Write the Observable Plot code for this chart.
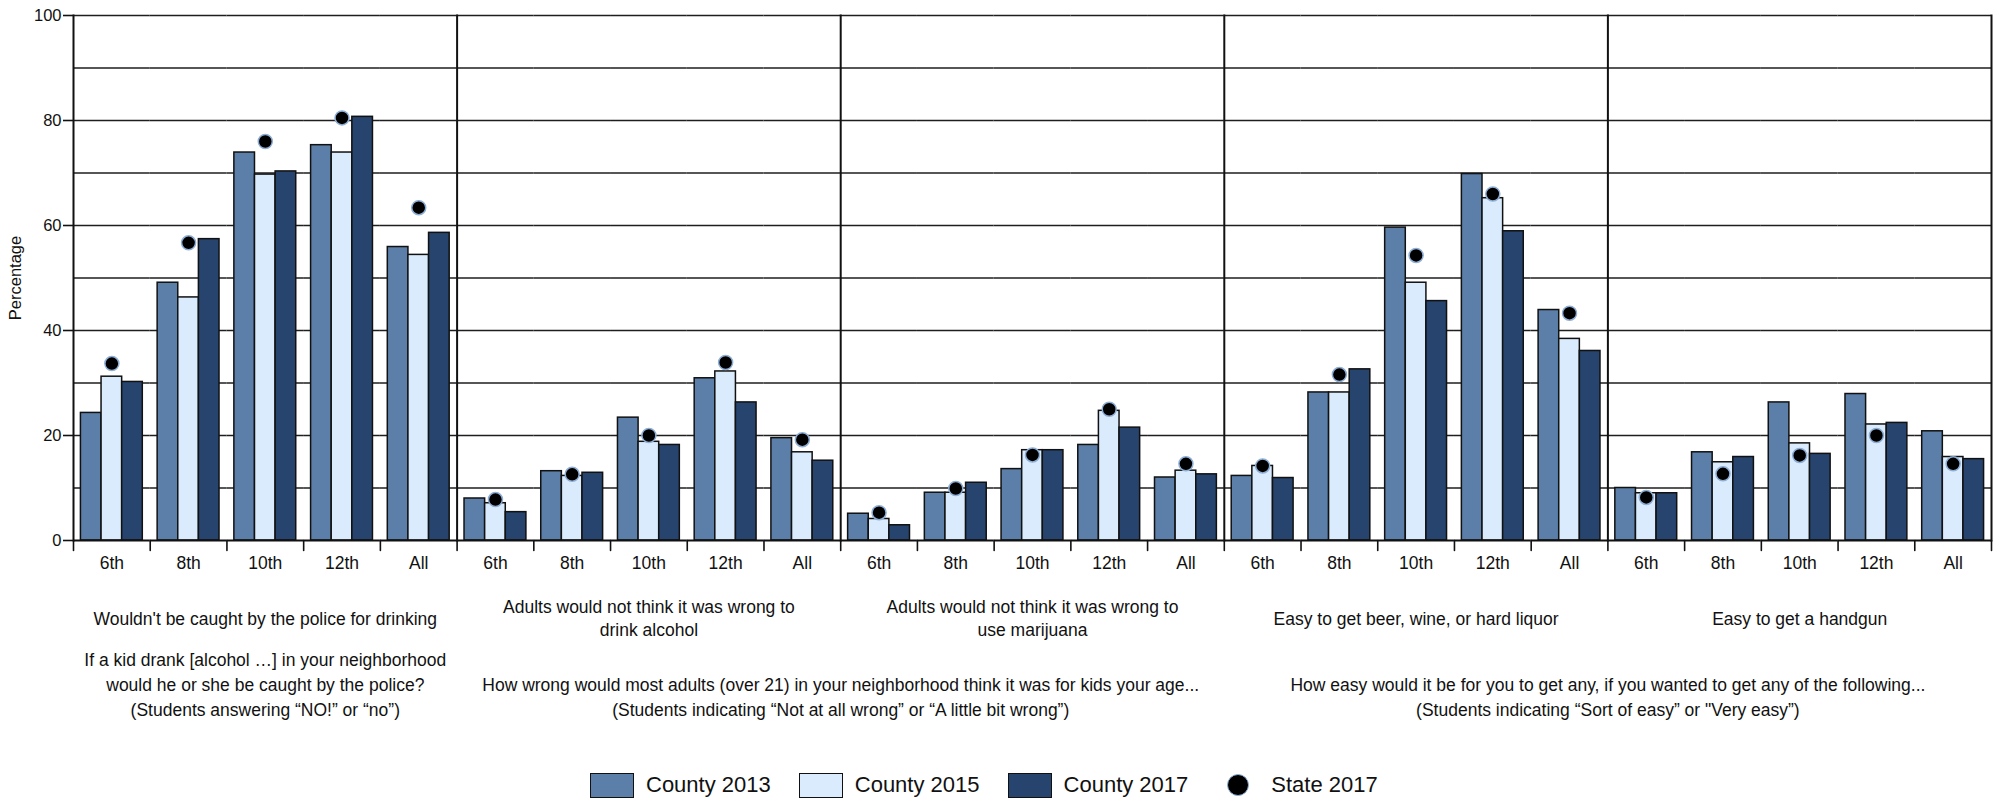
<!DOCTYPE html>
<html>
<head>
<meta charset="utf-8">
<script src="https://cdn.jsdelivr.net/npm/d3@7"></script>
<script src="https://cdn.jsdelivr.net/npm/@observablehq/plot@0.6"></script>
<style>
  body { margin: 0; background: #fff; }
  #chart svg { display: block; }
  #legend { display: flex; justify-content: flex-start; align-items: center; height: 40px; padding-left: 590px;
            font-family: "Liberation Sans", Arial, sans-serif; font-size: 22px; color: #111; }
  .item { display: flex; align-items: center; margin-right: 28px; }
  .sw { width: 44px; height: 25px; border: 1.5px solid #111; margin-right: 12px; box-sizing: border-box; }
  .dsw { width: 22px; height: 22px; border-radius: 50%; background: #000; border: 1.5px solid #8eaed6; box-sizing: border-box; margin-right: 22px; margin-left: 11px; }
</style>
</head>
<body>
<div id="chart"></div>
<div id="legend"></div>
<script>
// ---- data ----
const panels = ["p1", "p2", "p3", "p4", "p5"];
const grades = ["6th", "8th", "10th", "12th", "All"];
const series = ["County 2013", "County 2015", "County 2017"];
const stateLabel = "State 2017";

// values per panel (rows) and grade (columns)
const county2013 = [
  [24.3, 49.1, 73.9, 75.3, 55.9],
  [8.0, 13.2, 23.4, 30.9, 19.5],
  [5.1, 9.1, 13.6, 18.2, 12.0],
  [12.3, 28.2, 59.6, 69.8, 43.9],
  [10.0, 16.8, 26.3, 27.9, 20.8]
];
const county2015 = [
  [31.2, 46.3, 69.7, 73.9, 54.4],
  [7.1, 12.3, 18.8, 32.2, 16.8],
  [4.1, 9.1, 17.2, 24.7, 13.3],
  [14.2, 28.2, 49.1, 65.2, 38.4],
  [9.0, 14.9, 18.5, 22.1, 15.9]
];
const county2017 = [
  [30.2, 57.4, 70.3, 80.7, 58.6],
  [5.4, 12.9, 18.2, 26.3, 15.2],
  [2.9, 11.0, 17.2, 21.5, 12.6],
  [11.9, 32.6, 45.6, 58.9, 36.1],
  [9.0, 15.9, 16.5, 22.4, 15.5]
];
const state2017 = [
  [33.7, 56.7, 76.0, 80.5, 63.4],
  [7.8, 12.6, 20.0, 33.9, 19.2],
  [5.3, 9.9, 16.3, 25.0, 14.6],
  [14.2, 31.6, 54.3, 66.0, 43.3],
  [8.2, 12.7, 16.2, 20.0, 14.6]
];

const yTicks = [0, 20, 40, 60, 80, 100];
const gridValues = [10, 20, 30, 40, 50, 60, 70, 80, 90, 100];

const panelTitles = [
  "Wouldn't be caught by the police for drinking",
  "Adults would not think it was wrong to\ndrink alcohol",
  "Adults would not think it was wrong to\nuse marijuana",
  "Easy to get beer, wine, or hard liquor",
  "Easy to get a handgun"
];
const question1 = "If a kid drank [alcohol …] in your neighborhood\nwould he or she be caught by the police?\n(Students answering “NO!” or “no”)";
const question2 = "How wrong would most adults (over 21) in your neighborhood think it was for kids your age...\n(Students indicating “Not at all wrong” or “A little bit wrong”)";
const question3 = "How easy would it be for you to get any, if you wanted to get any of the following...\n(Students indicating “Sort of easy” or \"Very easy”)";

// ---- styles ----
const colors = ["#5b7fa8", "#d9ebfc", "#26446e"];
const FONT = '"Liberation Sans", Arial, sans-serif';
const INK = "#111";

// ---- tables ----
const key = (p, g) => `${p}|${g}`;
const keys = panels.flatMap(p => grades.map(g => key(p, g)));
const seriesValues = [county2013, county2015, county2017];
const rows = [];
panels.forEach((p, pi) => grades.forEach((g, gi) => series.forEach((s, si) => {
  rows.push({key: key(p, g), series: s, value: seriesValues[si][pi][gi]});
})));
const stateRows = [];
panels.forEach((p, pi) => grades.forEach((g, gi) => {
  stateRows.push({key: key(p, g), series: stateLabel, value: state2017[pi][gi]});
}));
const titleRows = panels.map((p, i) => ({key: key(p, grades[2]), text: panelTitles[i]}));
const questionRows = [
  {key: key(panels[0], grades[2]), text: question1},
  {key: key(panels[2], grades[0]), text: question2},
  {key: key(panels[4], grades[0]), text: question3}
];
const lastKey = keys[keys.length - 1];

const chart = Plot.plot({
  width: 2001,
  height: 765,
  marginLeft: 73,
  marginRight: 10,
  marginTop: 15,
  marginBottom: 225,
  style: {fontFamily: FONT, fontSize: "17px", color: INK, background: "#fff", overflow: "visible"},
  fx: {domain: keys, padding: 0, round: false},
  x: {domain: series, paddingInner: 0, paddingOuter: 0.36, round: false, axis: null},
  y: {domain: [0, 100]},
  color: {domain: series, range: colors},
  marks: [
    Plot.ruleY(gridValues, {stroke: "#1e1e1e", strokeWidth: 1.6}),
    Plot.barY(rows, {fx: "key", x: "series", y: "value", fill: "series", stroke: INK, strokeWidth: 1.5}),
    Plot.dot(stateRows, {fx: "key", x: () => series[1], y: "value", r: 7, fill: "#000", stroke: "#8eaed6", strokeWidth: 1.5}),
    Plot.ruleY([0], {stroke: INK, strokeWidth: 2}),
    ...panels.map(p => Plot.frame({fx: key(p, grades[0]), anchor: "left", stroke: INK, strokeWidth: 2})),
    Plot.frame({fx: lastKey, anchor: "right", stroke: INK, strokeWidth: 2}),
    Plot.vector(keys, {fx: d => d, frameAnchor: "bottom-left", rotate: 180, length: 10, anchor: "start", r: 0, stroke: INK, strokeWidth: 1.6}),
    Plot.vector([lastKey], {fx: d => d, frameAnchor: "bottom-right", rotate: 180, length: 10, anchor: "start", r: 0, stroke: INK, strokeWidth: 1.6}),
    Plot.axisFx({anchor: "bottom", tickSize: 0, tickPadding: 16, tickFormat: k => k.split("|")[1], fontSize: 17.5, label: null}),
    Plot.axisY({ticks: yTicks, tickSize: 10, tickPadding: 2, strokeWidth: 1.6, fontSize: 16.5,
                label: "Percentage", labelAnchor: "center", labelOffset: 64, labelArrow: "none"}),
    Plot.text(titleRows, {fx: "key", text: "text", frameAnchor: "bottom", dy: 77, lineAnchor: "middle", lineHeight: 1.3, fontSize: 17.5, fill: INK}),
    Plot.text(questionRows.slice(0, 1), {fx: "key", text: "text", frameAnchor: "bottom", textAnchor: "middle", dy: 175, lineAnchor: "bottom", lineHeight: 1.42, fontSize: 17.5, fill: INK}),
    Plot.text(questionRows.slice(1), {fx: "key", text: "text", frameAnchor: "bottom-left", textAnchor: "middle", dy: 175, lineAnchor: "bottom", lineHeight: 1.42, fontSize: 17.5, fill: INK})
  ]
});
document.getElementById("chart").append(chart);

// ---- legend ----
const legend = d3.select("#legend");
series.forEach((s, i) => {
  const it = legend.append("div").attr("class", "item");
  it.append("div").attr("class", "sw").style("background", colors[i]);
  it.append("span").text(s);
});
const st = legend.append("div").attr("class", "item");
st.append("div").attr("class", "dsw");
st.append("span").text(stateLabel);
</script>
</body>
</html>
